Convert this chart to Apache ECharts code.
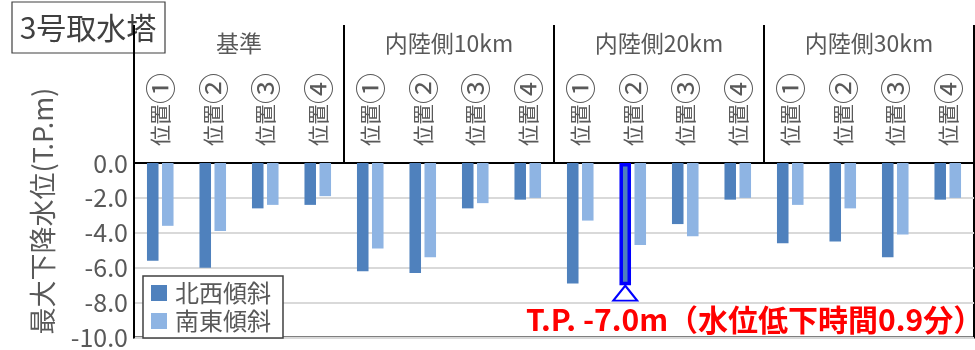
<!DOCTYPE html>
<html><head><meta charset="utf-8">
<script src="https://cdn.jsdelivr.net/npm/echarts@6/dist/echarts.min.js"></script>
<style>html,body{margin:0;padding:0;background:#fff}#c{width:975px;height:350px}</style>
</head><body><div id="c"></div>
<script>
var groups = ['基準', '内陸側10km', '内陸側20km', '内陸側30km'];
var positionNames = ['位置', '位置', '位置', '位置'];
var positionMarks = ['①', '②', '③', '④'];
var seriesNames = ['北西傾斜', '南東傾斜'];
var northwest = [-5.6, -6.0, -2.6, -2.4, -6.2, -6.3, -2.6, -2.1, -6.9, -7.0, -3.5, -2.1, -4.6, -4.5, -5.4, -2.1];
var southeast = [-3.6, -3.9, -2.4, -1.9, -4.9, -5.4, -2.3, -2.0, -3.3, -4.7, -4.2, -2.0, -2.4, -2.6, -4.1, -2.0];
var yTicks = [0, -2, -4, -6, -8, -10];
var highlightIndex = 9;
var annotationText = 'T.P. -7.0m（水位低下時間0.9分）';
var chartTitle = '3号取水塔';
var yTitle = '最大下降水位(T.P.m)';

var categories = [];
groups.forEach(function (g) {
  positionNames.forEach(function (p, j) { categories.push(g + '|' + p + '|' + positionMarks[j]); });
});

var FONT = '"Noto Sans CJK JP", "Noto Sans", sans-serif';
var TXT = '#595959';

var nwData = northwest.map(function (v, i) {
  if (i === highlightIndex) {
    return { value: v, itemStyle: { borderColor: '#0000ff', borderWidth: 3.5 } };
  }
  return v;
});

var chart = echarts.init(document.getElementById('c'), null, { renderer: 'canvas' });
chart.setOption({
  animation: false,
  grid: { left: 134, right: 1, top: 163, bottom: 10, show: true, borderColor: '#000', borderWidth: 2, backgroundColor: 'transparent' },
  legend: {
    data: seriesNames,
    orient: 'vertical',
    left: 143, top: 276,
    backgroundColor: '#fff',
    borderColor: '#404040', borderWidth: 1.5,
    padding: [5, 12, 5, 8],
    itemWidth: 16, itemHeight: 16, itemGap: 4,
    icon: 'rect',
    textStyle: { fontFamily: FONT, fontSize: 24, color: TXT, padding: [0, 0, 0, 3] },
    z: 20
  },
  xAxis: [
    {
      type: 'category', position: 'top', data: categories,
      axisLine: { show: true, lineStyle: { color: '#000', width: 2 } },
      axisTick: { show: false },
      axisLabel: {
        rotate: 90, margin: 17, interval: 0,
        fontFamily: FONT, fontSize: 21, color: TXT,
        formatter: function (v) { var s = v.split('|'); return '{a|' + s[1] + '}{b|' + s[2] + '}'; },
        rich: {
          a: { fontFamily: FONT, fontSize: 21, color: TXT },
          b: { fontFamily: FONT, fontSize: 31, color: TXT }
        }
      },
      splitLine: { show: false }
    },
    {
      type: 'category', position: 'top', data: groups, boundaryGap: true,
      axisLine: { show: false },
      axisTick: { show: true, length: 138, interval: 0, lineStyle: { color: '#000', width: 2 } },
      axisLabel: { margin: 108, interval: 0, fontFamily: FONT, fontSize: 23, color: TXT },
      splitLine: { show: false }
    }
  ],
  yAxis: {
    type: 'value', min: yTicks[yTicks.length - 1], max: yTicks[0], interval: 2,
    axisLine: { show: true, lineStyle: { color: '#000', width: 2 } },
    axisTick: { show: false },
    axisLabel: { margin: 6, fontFamily: FONT, fontSize: 25, color: TXT, formatter: function (v) { return v.toFixed(1); } },
    splitLine: { show: true, lineStyle: { color: '#d9d9d9', width: 2 } }
  },
  series: [
    {
      name: seriesNames[0], type: 'bar', xAxisIndex: 0, data: nwData,
      barWidth: '22%', barGap: '30%',
      itemStyle: { color: '#4f81bd' },
      markPoint: {
        symbol: 'triangle', symbolSize: [24, 15], symbolOffset: [0, 8],
        itemStyle: { color: '#fff', borderColor: '#0000ff', borderWidth: 2 },
        label: { show: false },
        data: [{ coord: [highlightIndex, northwest[highlightIndex]] }]
      }
    },
    {
      name: seriesNames[1], type: 'bar', xAxisIndex: 0, data: southeast,
      barWidth: '22%', barGap: '30%',
      itemStyle: { color: '#8eb4e3' }
    }
  ],
  graphic: [
    {
      type: 'group', z: 100,
      children: [
        { type: 'rect', shape: { x: 12, y: 2, width: 153, height: 51 }, style: { fill: '#fff', stroke: '#404040', lineWidth: 1.2 } },
        { type: 'text', x: 88, y: 28, style: { text: chartTitle, fontFamily: FONT, fontSize: 30, fill: '#404040', align: 'center', verticalAlign: 'middle' } }
      ]
    },
    {
      type: 'text', x: 43, y: 211, rotation: Math.PI / 2, z: 100,
      style: { text: yTitle, fontFamily: FONT, fontSize: 27, fill: TXT, align: 'center', verticalAlign: 'middle' }
    },
    {
      type: 'text', x: 526, y: 320, z: 100,
      style: { text: annotationText, fontFamily: FONT, fontSize: 30, fontWeight: 'bold', fill: '#ff0000', align: 'left', verticalAlign: 'middle' }
    }
  ]
});
</script></body></html>
